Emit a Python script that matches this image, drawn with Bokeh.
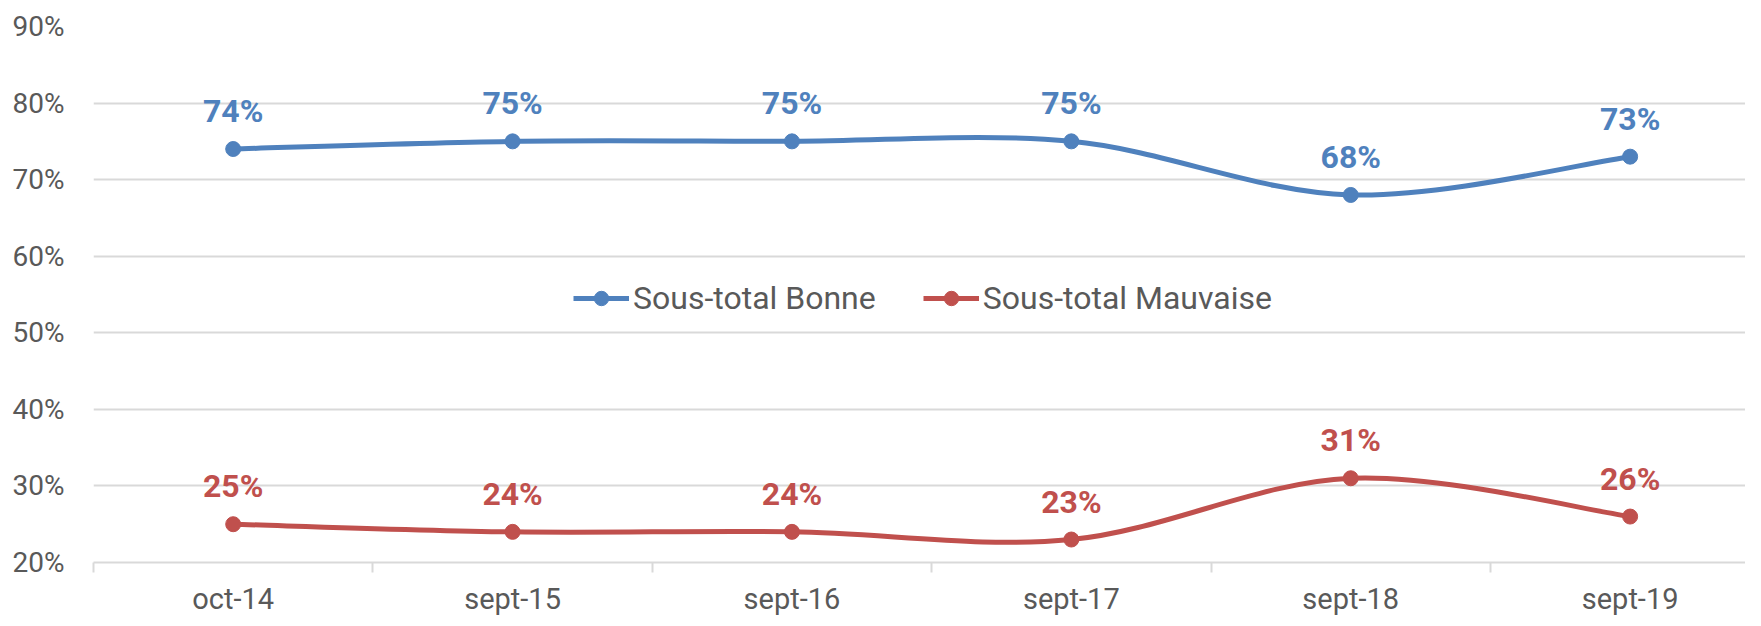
from bokeh.plotting import figure
from bokeh.models import (ColumnDataSource, FixedTicker, Legend, LegendItem, Range1d)
from bokeh.core.properties import value
from bokeh.embed import file_html
from bokeh.resources import INLINE

categories = ["oct-14", "sept-15", "sept-16", "sept-17", "sept-18", "sept-19"]
bonne = [74, 75, 75, 75, 68, 73]
mauvaise = [25, 24, 24, 23, 31, 26]
y_ticks = [20, 30, 40, 50, 60, 70, 80, 90]

BLUE = "#4F81BD"
RED = "#C0504D"
GREY_TXT = "#595959"
GRID = "#D9D9D9"
FONT = "Roboto"

p = figure(width=1745, height=618, output_backend="svg", toolbar_location=None,
           x_range=Range1d(-0.5, 5.413), y_range=Range1d(20, 90),
           min_border_left=93, min_border_right=0, min_border_top=26, min_border_bottom=0)
p.outline_line_color = None
p.background_fill_color = "white"
p.border_fill_color = "white"

# axes
xs = list(range(len(categories)))
p.xaxis.ticker = FixedTicker(ticks=xs, minor_ticks=[i - 0.5 for i in range(len(categories) + 1)])
p.xaxis.major_label_overrides = {i: c for i, c in enumerate(categories)}
p.xaxis.major_tick_line_color = None
p.xaxis.major_tick_out = 0
p.xaxis.major_tick_in = 0
p.xaxis.minor_tick_line_color = GRID
p.xaxis.minor_tick_line_width = 2
p.xaxis.minor_tick_out = 10
p.xaxis.minor_tick_in = 0
p.xaxis.axis_line_color = GRID
p.xaxis.axis_line_width = 2
p.xaxis.major_label_text_font = FONT
p.xaxis.major_label_text_font_size = "29px"
p.xaxis.major_label_text_color = GREY_TXT
p.xaxis.major_label_standoff = 9

p.yaxis.ticker = FixedTicker(ticks=y_ticks)
p.yaxis.major_label_overrides = {t: f"{t}%" for t in y_ticks}
p.yaxis.axis_line_color = None
p.yaxis.major_tick_line_color = None
p.yaxis.major_tick_out = 0
p.yaxis.major_tick_in = 0
p.yaxis.minor_tick_line_color = None
p.yaxis.minor_tick_out = 0
p.yaxis.major_label_text_font = FONT
p.yaxis.major_label_text_font_size = "28px"
p.yaxis.major_label_text_color = GREY_TXT
p.yaxis.major_label_standoff = 29

p.xgrid.grid_line_color = None
p.ygrid.grid_line_color = GRID
p.ygrid.grid_line_width = 2


def smooth_segments(vals):
    n = len(vals)
    pts = [(float(i), float(v)) for i, v in enumerate(vals)]
    d = dict(x0=[], y0=[], x1=[], y1=[], cx0=[], cy0=[], cx1=[], cy1=[])
    for i in range(n - 1):
        pm = pts[max(i - 1, 0)]
        p0 = pts[i]
        p1 = pts[i + 1]
        p2 = pts[min(i + 2, n - 1)]
        d["x0"].append(p0[0]); d["y0"].append(p0[1])
        d["x1"].append(p1[0]); d["y1"].append(p1[1])
        d["cx0"].append(p0[0] + (p1[0] - pm[0]) / 6)
        d["cy0"].append(p0[1] + (p1[1] - pm[1]) / 6)
        d["cx1"].append(p1[0] - (p2[0] - p0[0]) / 6)
        d["cy1"].append(p1[1] - (p2[1] - p0[1]) / 6)
    return ColumnDataSource(d)


items = []
for name, vals, col in [("Sous-total Bonne", bonne, BLUE), ("Sous-total Mauvaise", mauvaise, RED)]:
    seg = smooth_segments(vals)
    br = p.bezier(x0="x0", y0="y0", x1="x1", y1="y1", cx0="cx0", cy0="cy0", cx1="cx1", cy1="cy1",
                  source=seg, line_color=col, line_width=5)
    src = ColumnDataSource(dict(x=xs, y=vals, lab=[f"{v}%" for v in vals]))
    sr = p.scatter("x", "y", source=src, size=15, fill_color=col, line_color=col)
    p.text("x", "y", text="lab", source=src, text_font=value(FONT), text_font_style="bold",
           text_font_size="32px", text_color=col, text_align="center",
           text_baseline="alphabetic", y_offset=-38)
    items.append(LegendItem(label=name, renderers=[br, sr]))

legend = Legend(items=items, orientation="horizontal", location=(480, 245),
                background_fill_alpha=0, border_line_color=None,
                label_text_font=FONT, label_text_font_size="32px", label_text_color=GREY_TXT,
                glyph_width=56, glyph_height=36, label_standoff=4, spacing=47, padding=0, margin=0)
p.add_layout(legend, "center")

open("out.html", "w").write(file_html(p, INLINE))
